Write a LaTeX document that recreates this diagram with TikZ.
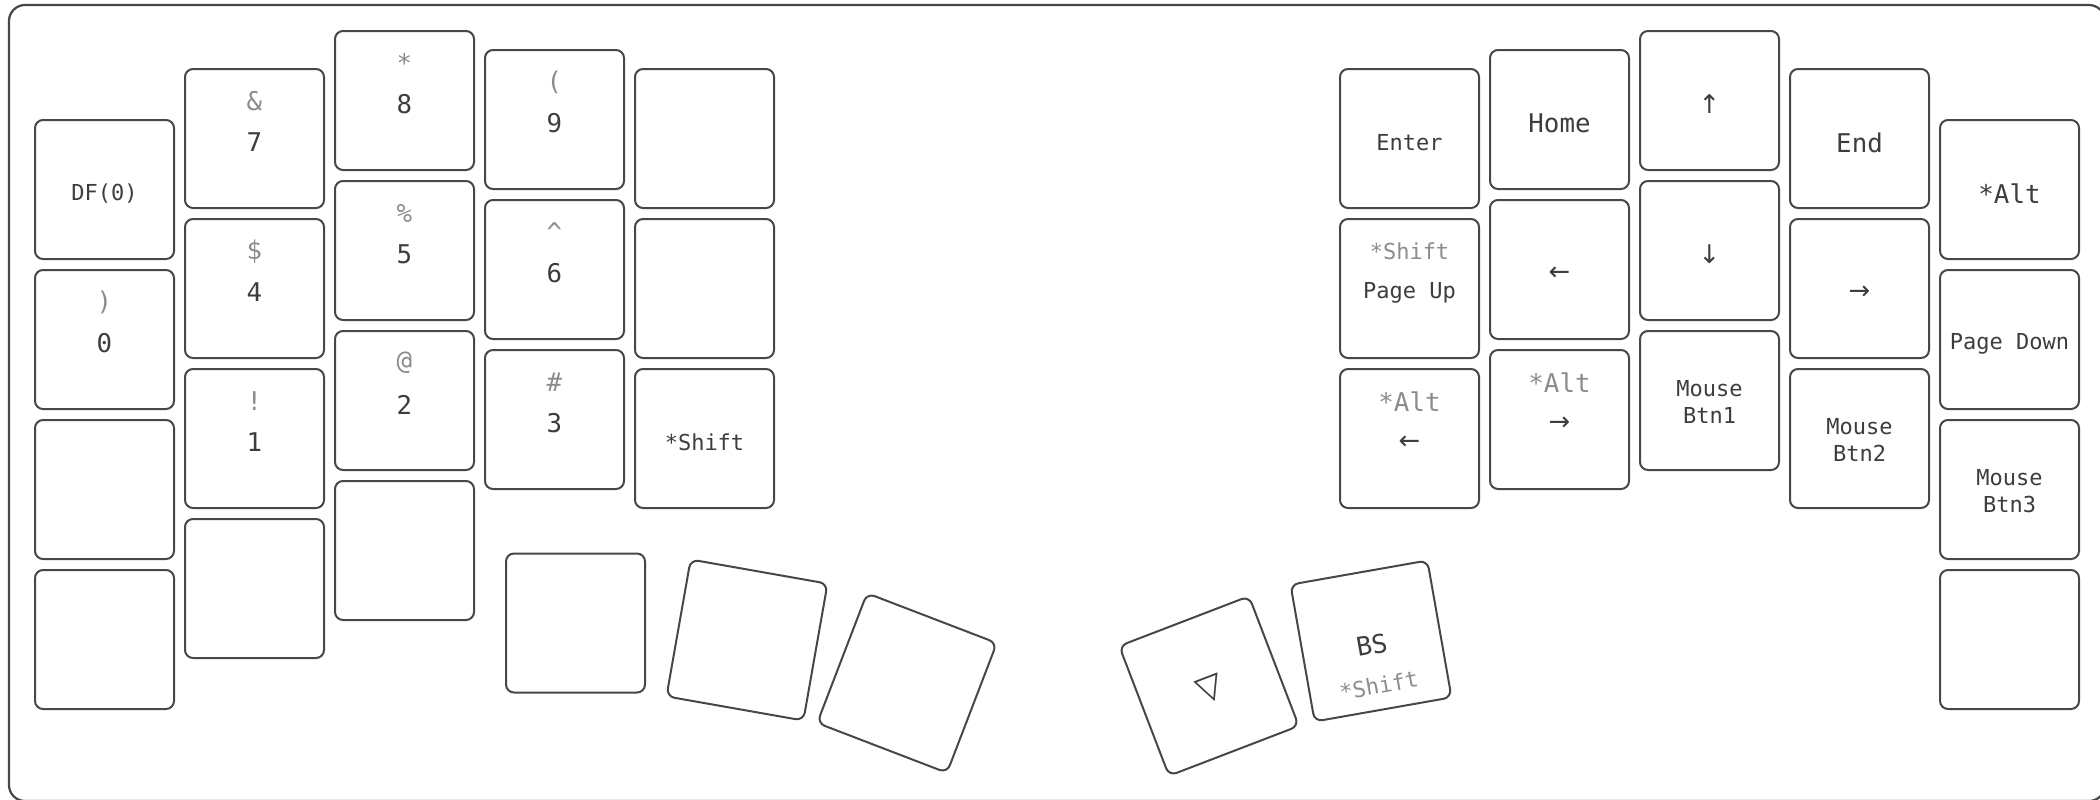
\documentclass[tikz,border=0pt]{standalone}
\usepackage{fontspec}
\newfontfamily\keyfont{DejaVu Sans Mono}
\newfontfamily\arrowfont{DejaVu Sans}
\usepackage{tikz}
\usetikzlibrary{calc,shapes}

\definecolor{keyline}{HTML}{474747}
\definecolor{legend}{HTML}{3D3D3D}
\definecolor{shiftgray}{HTML}{8C8C8C}

% main legend sits a little below the key centre
\newcommand{\keytap}[1]{\raisebox{-2pt}[\height][\depth]{#1}}

\begin{document}
\begin{tikzpicture}
	[
		x=0.5pt, y=-0.5pt,
		every node/.style = {font=\keyfont\fontsize{12.9}{15}\selectfont, text=legend},
		keycap/.style = {draw=keyline, line width=1pt, rounded corners=4pt, minimum size=69.5pt, inner sep=0pt, align=center},
		small/.style = {font=\keyfont\fontsize{11}{13.8}\selectfont},
		arrowkey/.style = {font=\arrowfont\fontsize{12.9}{15}\selectfont},
		shifted/.style = {text=shiftgray},
	]

  \useasboundingbox (0,0) rectangle (2100,799);
  \clip (0,0) rectangle (2100,799);
  \draw[keyline, line width=1.1pt, rounded corners=8pt] (9,5) rectangle (2105,801);

  % left hand
  \node[keycap, small] (kdf) at (104.5,189.5) {\keytap{DF(0)}};
  \node[keycap] (k0) at (104.5,339.5) {\keytap{0}};
  \node[keycap] (lpinky2) at (104.5,489.5) {};
  \node[keycap] (lpinky3) at (104.5,639.5) {};
  \node[keycap] (k7) at (254.5,138.5) {\keytap{7}};
  \node[keycap] (k4) at (254.5,288.5) {\keytap{4}};
  \node[keycap] (k1) at (254.5,438.5) {\keytap{1}};
  \node[keycap] (lring3) at (254.5,588.5) {};
  \node[keycap] (k8) at (404.5,100.5) {\keytap{8}};
  \node[keycap] (k5) at (404.5,250.5) {\keytap{5}};
  \node[keycap] (k2) at (404.5,400.5) {\keytap{2}};
  \node[keycap] (lmiddle3) at (404.5,550.5) {};
  \node[keycap] (k9) at (554.5,119.5) {\keytap{9}};
  \node[keycap] (k6) at (554.5,269.5) {\keytap{6}};
  \node[keycap] (k3) at (554.5,419.5) {\keytap{3}};
  \node[keycap] (linner0) at (704.5,138.5) {};
  \node[keycap] (linner1) at (704.5,288.5) {};
  \node[keycap, small] (lshift) at (704.5,438.5) {\keytap{*Shift}};

  \node[shifted] (s0) at ($(k0.center)!0.53!(k0.north)$) {)};
  \node[shifted] (s7) at ($(k7.center)!0.53!(k7.north)$) {\&};
  \node[shifted] (s4) at ($(k4.center)!0.53!(k4.north)$) {\$};
  \node[shifted] (s1) at ($(k1.center)!0.53!(k1.north)$) {!};
  \node[shifted] (s8) at ($(k8.center)!0.53!(k8.north)$) {*};
  \node[shifted] (s5) at ($(k5.center)!0.53!(k5.north)$) {\%};
  \node[shifted] (s2) at ($(k2.center)!0.53!(k2.north)$) {@};
  \node[shifted] (s9) at ($(k9.center)!0.53!(k9.north)$) {(};
  \node[shifted] (s6) at ($(k6.center)!0.53!(k6.north)$) {\textasciicircum};
  \node[shifted] (s3) at ($(k3.center)!0.53!(k3.north)$) {\#};

  % left thumbs
  \node[keycap] (lthumb1) at (575.5,623) {};
  \node[keycap, rotate=-10] (lthumb2) at (747,640) {};
  \node[keycap, rotate=-21] (lthumb3) at (907,683) {};

  % right hand
  \node[keycap, small] (kenter) at (1409.5,138.5) {\keytap{Enter}};
  \node[keycap, small] (kpgup) at (1409.5,288.5) {\keytap{Page Up}};
  \node[keycap, arrowkey] (kaltleft) at (1409.5,438.5) {\keytap{←}};
  \node[keycap] (khome) at (1559.5,119.5) {\keytap{Home}};
  \node[keycap, arrowkey] (kleft) at (1559.5,269.5) {\keytap{←}};
  \node[keycap, arrowkey] (kaltright) at (1559.5,419.5) {\keytap{→}};
  \node[keycap, arrowkey] (kup) at (1709.5,100.5) {\keytap{↑}};
  \node[keycap, arrowkey] (kdown) at (1709.5,250.5) {\keytap{↓}};
  \node[keycap, small] (kbtn1) at (1709.5,400.5) {\keytap{\begin{tabular}{@{}c@{}}Mouse\\Btn1\end{tabular}}};
  \node[keycap] (kend) at (1859.5,138.5) {\keytap{End}};
  \node[keycap, arrowkey] (kright) at (1859.5,288.5) {\keytap{→}};
  \node[keycap, small] (kbtn2) at (1859.5,438.5) {\keytap{\begin{tabular}{@{}c@{}}Mouse\\Btn2\end{tabular}}};
  \node[keycap] (kalt) at (2009.5,189.5) {\keytap{*Alt}};
  \node[keycap, small] (kpgdn) at (2009.5,339.5) {\keytap{Page Down}};
  \node[keycap, small] (kbtn3) at (2009.5,489.5) {\keytap{\begin{tabular}{@{}c@{}}Mouse\\Btn3\end{tabular}}};
  \node[keycap] (rpinky3) at (2009.5,639.5) {};

  \node[shifted, small] (spgup) at ($(kpgup.center)!0.53!(kpgup.north)$) {*Shift};
  \node[shifted] (saltleft) at ($(kaltleft.center)!0.53!(kaltleft.north)$) {*Alt};
  \node[shifted] (saltright) at ($(kaltright.center)!0.53!(kaltright.north)$) {*Alt};

  % right thumbs
  \node[keycap, rotate=21, font=\arrowfont\fontsize{17}{19}\selectfont] (knav) at (1209,686) {\keytap{▽}};
  \node[keycap, rotate=10] (kbs) at (1371,641) {\keytap{BS}};
  \node[shifted, small, rotate=10] (hbs) at ($(kbs.center)!0.64!(kbs.south)$) {*Shift};

\end{tikzpicture}
\end{document}
